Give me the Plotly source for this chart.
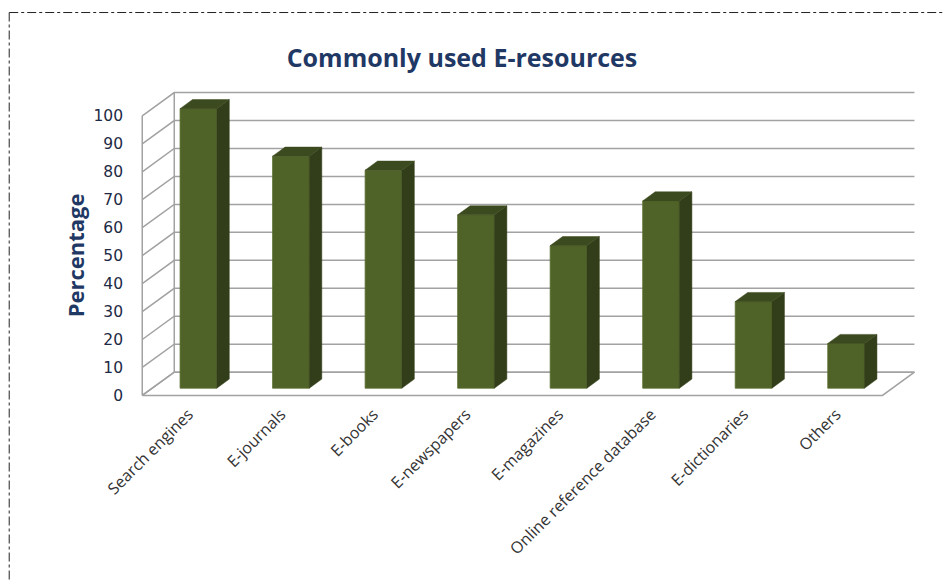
import plotly.graph_objects as go

# ---------------- data ----------------
categories = ["Search engines", "E-journals", "E-books", "E-newspapers",
              "E-magazines", "Online reference database", "E-dictionaries", "Others"]
percentages = [100, 83, 78, 62, 51, 67, 31, 16]
y_ticks = [0, 10, 20, 30, 40, 50, 60, 70, 80, 90, 100]

# ---------------- geometry (oblique 3-D look) ----------------
OFF = 8                      # default page body margin
W, H = 952 - OFF, 582 - OFF  # figure size
PX_X = 92.5          # pixels per category
PX_Y = 2.8           # pixels per percentage point
OX = 32 / PX_X       # depth offset of the back wall (category units)
OY = 23.3 / PX_Y     # depth offset of the back wall (value units)
D0, D1 = 0.31, 0.70  # bar front / back depth fractions
BW = 0.397           # bar width (category units)

n = len(categories)
x_lo, x_hi = -0.6, n - 0.5 + OX + 0.06
y_lo, y_hi = -2.0, 100 + OY + 2.0
front_left_px, zero_px = 142 - OFF, 395.5 - OFF
m_l = front_left_px - (-0.5 - x_lo) * PX_X
plot_w = (x_hi - x_lo) * PX_X
m_r = W - m_l - plot_w
m_b = H - (zero_px + (0 - y_lo) * PX_Y)
plot_h = (y_hi - y_lo) * PX_Y
m_t = H - m_b - plot_h

GRID = "#A2A2A2"
FRONT, SIDE, TOP = "#4F6228", "#323E19", "#3C4A1F"
NAVY = "#1F3864"

fig = go.Figure()

# floor
fx = [-0.5, n - 0.5, n - 0.5 + OX, -0.5 + OX, -0.5]
fy = [0, 0, OY, OY, 0]
fig.add_trace(go.Scatter(x=fx, y=fy, mode="lines", fill="toself", fillcolor="white",
                         line=dict(color=GRID, width=1.5), hoverinfo="skip"))

# back wall gridlines + left wall lines
gx, gy = [], []
for v in y_ticks:
    gx += [-0.5, -0.5 + OX, n - 0.5 + OX, None]
    gy += [v, v + OY, v + OY, None]
gx += [-0.5, -0.5, None, -0.5 + OX, -0.5 + OX, None]
gy += [0, 100, None, OY, 100 + OY, None]
fig.add_trace(go.Scatter(x=gx, y=gy, mode="lines", line=dict(color=GRID, width=1.5),
                         hoverinfo="skip", connectgaps=False))

# bars: front, side and top faces (polygons on the data axes)
xc = [i + D0 * OX for i in range(n)]
base = D0 * OY
dd = D1 - D0
for i, v in enumerate(percentages):
    xl = xc[i] - BW / 2
    xr = xc[i] + BW / 2
    top = base + v
    fig.add_trace(go.Scatter(x=[xl, xr, xr, xl, xl], y=[base, base, top, top, base],
                             mode="lines", fill="toself", fillcolor=FRONT,
                             line=dict(color="#5A6E30", width=0.8), hoverinfo="skip"))
    fig.add_trace(go.Scatter(x=[xr, xr + dd * OX, xr + dd * OX, xr, xr],
                             y=[base, base + dd * OY, top + dd * OY, top, base],
                             mode="lines", fill="toself", fillcolor=SIDE,
                             line=dict(color=SIDE, width=0.5), hoverinfo="skip"))
    fig.add_trace(go.Scatter(x=[xl, xr, xr + dd * OX, xl + dd * OX, xl],
                             y=[top, top, top + dd * OY, top + dd * OY, top],
                             mode="lines", fill="toself", fillcolor=TOP,
                             line=dict(color=TOP, width=0.5), hoverinfo="skip"))


def px2paper_x(px):
    return (px - OFF - m_l) / plot_w


def px2paper_y(py):
    return (H - m_b - (py - OFF)) / plot_h


# outer dash-dot frame
fig.add_shape(type="line", xref="paper", yref="paper",
              x0=px2paper_x(9), x1=px2paper_x(960), y0=px2paper_y(12), y1=px2paper_y(12),
              line=dict(color="#222222", width=1, dash="dashdot"))
fig.add_shape(type="line", xref="paper", yref="paper",
              x0=px2paper_x(9), x1=px2paper_x(9), y0=px2paper_y(12), y1=px2paper_y(590),
              line=dict(color="#222222", width=1, dash="dashdot"))

fig.add_annotation(text="<b>Percentage</b>", textangle=-90, xref="paper", yref="paper",
                   x=px2paper_x(75), y=px2paper_y(255), xanchor="center", yanchor="middle",
                   showarrow=False, font=dict(family="Open Sans", size=22, color=NAVY))

fig.update_layout(
    width=W, height=H,
    margin=dict(l=m_l, r=m_r, t=m_t, b=m_b, autoexpand=False),
    paper_bgcolor="white", plot_bgcolor="white",
    showlegend=False,
    title=dict(text="<b>Commonly used E-resources</b>", x=(462 - OFF) / W, xref="container",
               y=1 - (58 - OFF) / H, yref="container", xanchor="center", yanchor="middle",
               font=dict(family="Open Sans", size=25, color=NAVY)),
    xaxis=dict(range=[x_lo, x_hi], tickmode="array", tickvals=list(range(n)),
               ticktext=categories, tickangle=-45, showgrid=False, zeroline=False,
               showline=False, ticks="", tickfont=dict(family="Open Sans", size=16, color="#333333"),
               fixedrange=True),
    yaxis=dict(range=[y_lo, y_hi], tickmode="array", tickvals=y_ticks, showgrid=False,
               zeroline=False, showline=False, ticks="", ticklabelstandoff=9,
               tickfont=dict(family="DejaVu Sans", size=15.5, color="#1E2A45"),
               fixedrange=True),
)

fig.write_html("out.html")
